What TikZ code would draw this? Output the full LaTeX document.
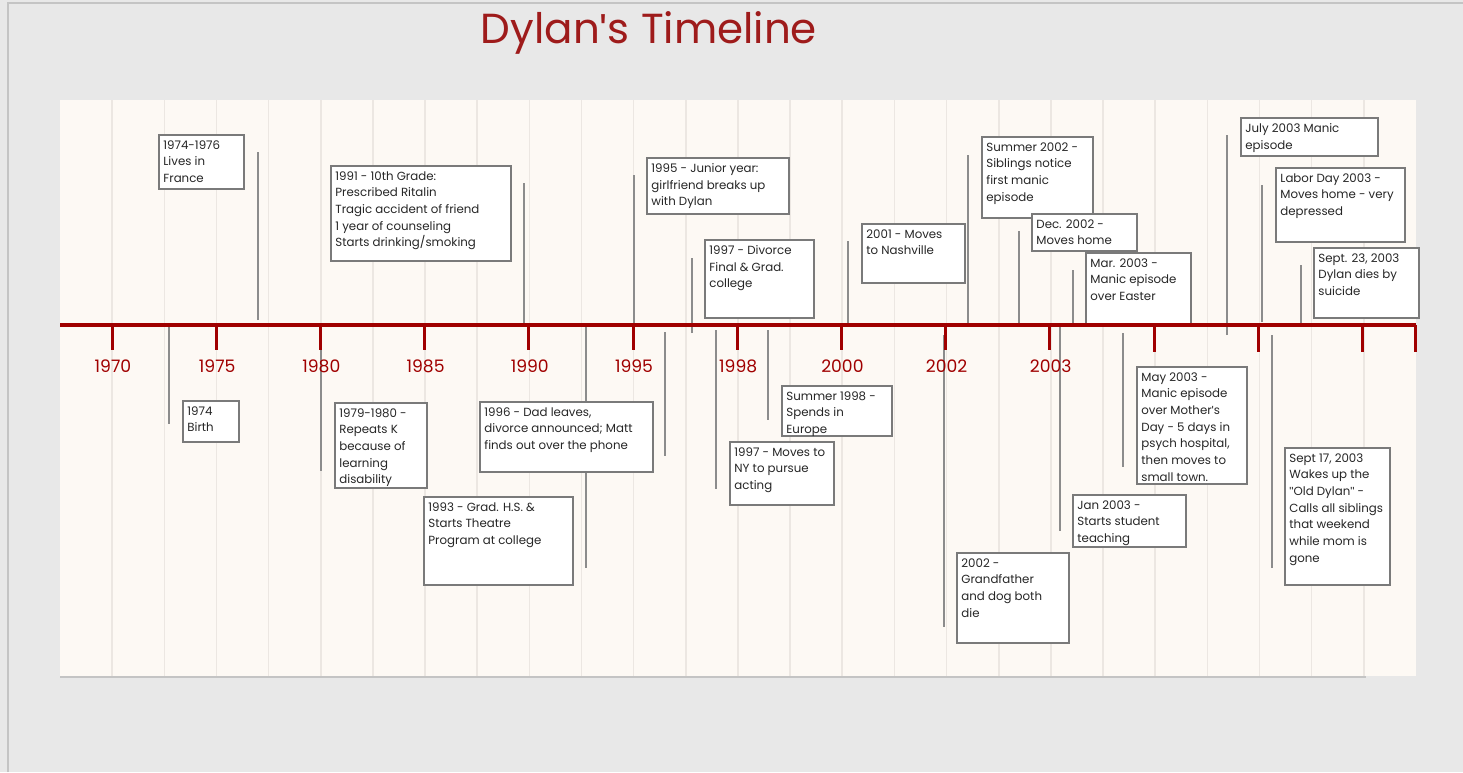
\documentclass[tikz,border=0pt]{standalone}
\usepackage{fontspec}
\setmainfont{Poppins}
\newfontfamily\qfont{Liberation Sans}
\usetikzlibrary{calc}
\definecolor{bgray}{HTML}{E8E8E8}
\definecolor{framec}{HTML}{C4C4C4}
\definecolor{panel}{HTML}{FDF9F4}
\definecolor{gridc}{HTML}{ECE7E2}
\definecolor{axisred}{HTML}{A00000}
\definecolor{titlered}{HTML}{9E1B1B}
\definecolor{leader}{HTML}{8C8C8C}
\definecolor{boxline}{HTML}{7A7A7A}
\definecolor{boxtext}{HTML}{262626}
\pgfdeclarelayer{bglayer}
\pgfdeclarelayer{underlayer}
\pgfsetlayers{bglayer,underlayer,main}
\tikzset{
  evbox/.style={draw=boxline, line width=0.75pt, fill=white, inner sep=0pt, outer sep=0pt, anchor=north west},
  evtext/.style={anchor=north west, inner sep=0pt, align=left, text=boxtext, font=\fontsize{5.9}{8.35}\selectfont},
  leaderline/.style={draw=leader, line width=0.8pt},
  axisline/.style={draw=axisred, line width=2pt},
  tickline/.style={draw=axisred, line width=1.5pt},
  gridline/.style={draw=gridc, line width=0.8pt},
  yearlbl/.style={text=axisred, font=\fontsize{8.6}{10}\selectfont, inner sep=0pt},
  titlelbl/.style={text=titlered, font=\fontsize{21}{24}\selectfont, inner sep=0pt}
}
% name, x1, y1, x2, y2, leader x, leader y at axis, leader y far end, text
\newcommand\evt[9]{%
  \node[evbox, minimum width={(#4-#2)*0.5pt}, minimum height={(#5-#3)*0.5pt}] (#1) at (#2,#3) {};
  \node[evtext] (#1t) at ($(#1.north west)+(4,5)$) {#9};
  \coordinate (#1a) at (#6,#7);
  \coordinate (#1b) at (#6,#8);
  \begin{pgfonlayer}{underlayer}
    \draw[leaderline] (#1a) -- (#1b);
  \end{pgfonlayer}
}
\newcommand\sq{{\qfont\char"0027}}
\newcommand\dq{{\qfont\char"0022}}
\begin{document}
\begin{tikzpicture}[x=0.5pt,y=-0.5pt]
\useasboundingbox (0,0) rectangle (1463,772);
\begin{pgfonlayer}{bglayer}
\fill[bgray] (0,0) rectangle (1463,772);
\draw[framec, line width=0.6pt] (8,772) -- (8,3) -- (1463,3);
\fill[panel] (60,100) rectangle (1416,676);
\draw[framec, line width=0.8pt] (60,677) -- (1366,677);
\foreach \i in {1,...,25} \draw[gridline] ({60+52.15*\i},100) -- ({60+52.15*\i},676);
\end{pgfonlayer}
% title
\node[titlelbl] (title) at (649,33) {Dylan\sq s Timeline};
% events above
\evt{e1}{159}{135}{244}{189}{258}{320}{152}{1974-1976\\Lives in\\France}
\evt{e2}{331}{166}{511}{261}{524}{326}{183}{1991 - 10th Grade:\\Prescribed Ritalin\\Tragic accident of friend\\1 year of counseling\\Starts drinking/smoking}
\evt{e3}{647}{158}{789}{214}{634}{325}{175}{1995 - Junior year:\\girlfriend breaks up\\with Dylan}
\evt{e4}{705}{240}{814}{318}{692}{333}{258}{1997 - Divorce\\Final \& Grad.\\college}
\evt{e5}{862}{224}{965}{283}{848}{325}{241}{2001 - Moves\\to Nashville}
\evt{e6}{982}{137}{1093}{218}{968}{326}{155}{ Summer 2002 -\\Siblings notice\\first manic\\episode}
\evt{e7}{1032}{214}{1137}{251}{1019}{326}{231}{Dec. 2002 -\\Moves home}
\evt{e8}{1086}{253}{1191}{324}{1073}{326}{270}{Mar. 2003 -\\Manic episode\\over Easter}
\evt{e9}{1241}{118}{1378}{156}{1227}{335}{135}{July 2003 Manic\\episode}
\evt{e10}{1276}{168}{1405}{242}{1262}{322}{185}{Labor Day 2003 -\\Moves home - very\\depressed}
\evt{e11}{1314}{248}{1419}{318}{1301}{324}{265}{Sept. 23, 2003\\Dylan dies by\\suicide}
% events below
\evt{e12}{183}{401}{239}{442}{169}{327}{424}{1974\\Birth}
\evt{e13}{335}{403}{427}{488}{321}{327}{471}{1979-1980 -\\Repeats K\\because of\\learning\\disability}
\evt{e14}{480}{402}{653}{472}{665}{332}{456}{1996 - Dad leaves,\\divorce announced; Matt\\finds out over the phone}
\evt{e15}{424}{497}{573}{585}{586}{327}{568}{1993 - Grad. H.S. \&\\Starts Theatre\\Program at college}
\evt{e16}{730}{442}{834}{505}{716}{330}{489}{1997 - Moves to\\NY to pursue\\acting}
\evt{e17}{782}{386}{892}{436}{768}{330}{420}{Summer 1998 -\\Spends in\\Europe}
\evt{e18}{957}{553}{1069}{643}{944}{335}{627}{2002 -\\Grandfather\\and dog both\\die}
\evt{e19}{1073}{495}{1186}{547}{1060}{327}{531}{Jan 2003 -\\Starts student\\teaching}
\evt{e20}{1137}{367}{1247}{484}{1123}{333}{467}{May 2003 -\\Manic episode\\over Mother\sq s\\Day - 5 days in\\psych hospital,\\then moves to\\small town.}
\evt{e21}{1285}{448}{1390}{585}{1272}{335}{568}{Sept 17, 2003\\Wakes up the\\\dq Old Dylan\dq{} -\\Calls all siblings\\that weekend\\while mom is\\gone}
% axis
\coordinate (axL) at (60,325);
\coordinate (axR) at (1416,325);
\draw[axisline] (axL) -- (axR);
\foreach \i/\yr in {0/1970,1/1975,2/1980,3/1985,4/1990,5/1995,6/1998,7/2000,8/2002,9/2003} {
  \draw[tickline] ({112+104.2*\i},325) -- ({112+104.2*\i},350);
  \node[yearlbl] (y\i) at ({113+104.2*\i},366) {\yr};
}
\foreach \i in {10,11,12} \draw[tickline] ({112+104.2*\i},325) -- ({112+104.2*\i},352);
\draw[tickline] (1415,325) -- (1415,352);
\end{tikzpicture}
\end{document}
